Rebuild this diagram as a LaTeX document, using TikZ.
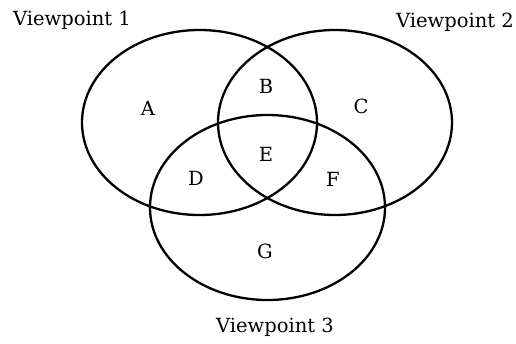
\documentclass[tikz,border=0pt]{standalone}
\usepackage{fontspec}
\setmainfont{DejaVu Serif}
\begin{document}
\begin{tikzpicture}[x=1pt,y=-1pt,
  venn/.style={draw=black,line width=2.3pt},
  lbl/.style={font=\fontsize{19.5}{23}\selectfont,inner sep=0pt}]
\useasboundingbox (0,0) rectangle (516,343);
\draw[venn] (199.5,122.5) ellipse [x radius=117.5,y radius=92.5];
\draw[venn] (335,122.5) ellipse [x radius=117,y radius=92.5];
\draw[venn] (267.5,207.5) ellipse [x radius=117.5,y radius=92.5];
\node[lbl] (v1) at (72,20) {Viewpoint 1};
\node[lbl] (v2) at (455,22) {Viewpoint 2};
\node[lbl] (v3) at (275,327) {Viewpoint 3};
\node[lbl] (a) at (148,108) {A};
\node[lbl] (b) at (266,86) {B};
\node[lbl] (c) at (361,106) {C};
\node[lbl] (d) at (196,178) {D};
\node[lbl] (e) at (266,154) {E};
\node[lbl] (f) at (333,179) {F};
\node[lbl] (g) at (265,251) {G};
\end{tikzpicture}
\end{document}
